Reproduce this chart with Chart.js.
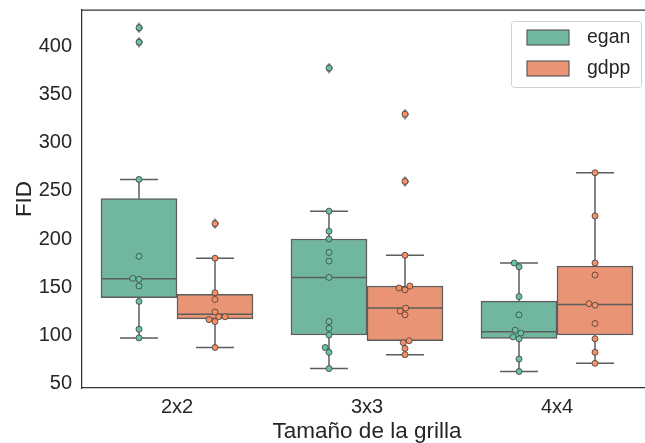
<!DOCTYPE html>
<html>
<head>
<meta charset="utf-8">
<script src="https://cdn.jsdelivr.net/npm/chart.js@4.4.1/dist/chart.umd.min.js"></script>
<style>
  html, body { margin: 0; padding: 0; background: #fff; overflow: hidden; }
  #wrap { width: 670px; height: 443px; }
</style>
</head>
<body>
<div id="wrap"><canvas id="chart" width="670" height="443"></canvas></div>
<script>
const categories = ["2x2", "3x3", "4x4"];
const seriesNames = ["egan", "gdpp"];

// FID values per grid size
const eganValues = [
  [420, 405, 262, 182, 159, 158, 151, 135, 106, 97],
  [378, 229, 208, 200, 186, 177, 160, 114, 107, 100, 87, 82, 65],
  [175, 171, 140, 121, 105, 102, 98, 96, 75, 62]
];
const gdppValues = [
  [216, 180, 144, 137, 124, 119, 119, 116, 114, 87],
  [330, 260, 183, 151, 149, 147, 128, 125, 121, 94, 92, 86, 79.5],
  [269, 224, 175, 162.5, 132.6, 131, 112, 96, 82, 70.5]
];
const yTicks = [50, 100, 150, 200, 250, 300, 350, 400];

const boxColors = ["rgb(113,183,160)", "rgb(233,149,117)"];
const pointColors = ["#66c2a5", "#fc8d62"];
const gray = "#5d5d5d";
const FONT = "'Liberation Sans', Arial, sans-serif";

function quantile(sorted, p) {
  const pos = (sorted.length - 1) * p;
  const lo = Math.floor(pos);
  const hi = Math.min(lo + 1, sorted.length - 1);
  return sorted[lo] + (pos - lo) * (sorted[hi] - sorted[lo]);
}

function boxStats(vals) {
  const s = [...vals].sort((a, b) => a - b);
  const q1 = quantile(s, 0.25), med = quantile(s, 0.5), q3 = quantile(s, 0.75);
  const iqr = q3 - q1;
  const inside = s.filter(v => v >= q1 - 1.5 * iqr && v <= q3 + 1.5 * iqr);
  return {
    q1, med, q3,
    lo: inside[0],
    hi: inside[inside.length - 1],
    fliers: s.filter(v => v < q1 - 1.5 * iqr || v > q3 + 1.5 * iqr)
  };
}

const allSeries = [eganValues, gdppValues];
const stats = allSeries.map(series => series.map(boxStats));
const hueOffset = [-0.2, 0.2];

function boxLines(h) {
  const pts = [];
  stats[h].forEach((st, i) => {
    const c = i + hueOffset[h];
    pts.push({ x: c, y: st.lo }, { x: c, y: st.q1 }, { x: c, y: null });
    pts.push({ x: c, y: st.q3 }, { x: c, y: st.hi }, { x: c, y: null });
    pts.push({ x: c - 0.1, y: st.lo }, { x: c + 0.1, y: st.lo }, { x: c, y: null });
    pts.push({ x: c - 0.1, y: st.hi }, { x: c + 0.1, y: st.hi }, { x: c, y: null });
    pts.push({ x: c - 0.2, y: st.med }, { x: c + 0.2, y: st.med }, { x: c, y: null });
  });
  return pts;
}

function flierPoints(h) {
  const pts = [];
  stats[h].forEach((st, i) => st.fliers.forEach(v => pts.push({ x: i + hueOffset[h], y: v })));
  return pts;
}

function rawPoints(h) {
  const pts = [];
  allSeries[h].forEach((vals, i) => vals.forEach(v => pts.push({ x: i + hueOffset[h], y: v, g: i })));
  return pts;
}

// thin diamond used for the boxplot fliers
const diamond = document.createElement("canvas");
diamond.width = 7; diamond.height = 11;
(function () {
  const c = diamond.getContext("2d");
  c.fillStyle = gray;
  c.beginPath();
  c.moveTo(3.5, 0); c.lineTo(7, 5.5); c.lineTo(3.5, 11); c.lineTo(0, 5.5);
  c.closePath(); c.fill();
})();

const datasets = [];
seriesNames.forEach((name, h) => {
  datasets.push({
    type: "bar",
    label: name,
    data: stats[h].map((st, i) => ({ x: i + hueOffset[h], y: [st.q1, st.q3] })),
    backgroundColor: boxColors[h],
    borderColor: gray,
    borderWidth: 1.5,
    borderSkipped: false,
    grouped: false,
    barThickness: ctx => {
      const xs = ctx.chart.scales.x2;
      return xs.getPixelForValue(0.4) - xs.getPixelForValue(0);
    },
    xAxisID: "x2",
    order: 5
  });
});
seriesNames.forEach((name, h) => {
  datasets.push({
    type: "line",
    label: name + " lines",
    data: boxLines(h),
    xAxisID: "x2",
    borderColor: gray,
    borderWidth: 1.5,
    pointRadius: 0,
    spanGaps: false,
    fill: false,
    order: 4
  });
  datasets.push({
    type: "scatter",
    label: name + " fliers",
    data: flierPoints(h),
    xAxisID: "x2",
    pointStyle: diamond,
    order: 3
  });
  datasets.push({
    type: "scatter",
    label: name + " points",
    data: rawPoints(h),
    xAxisID: "x2",
    backgroundColor: pointColors[h],
    borderColor: "#4a4a4a",
    borderWidth: 0.9,
    pointRadius: 3,
    order: 1
  });
});

const framePlugin = {
  id: "frame",
  afterDraw(chart) {
    const { ctx, chartArea: a } = chart;
    ctx.save();
    ctx.strokeStyle = "#333";
    ctx.lineWidth = 1.25;
    ctx.beginPath();
    ctx.moveTo(a.left, a.top); ctx.lineTo(a.right, a.top); ctx.lineTo(a.right, a.bottom);
    ctx.stroke();

    // legend box in the upper right corner
    const x0 = a.right - 141, y0 = a.top + 11, w = 130, h = 66;
    ctx.fillStyle = "rgba(255,255,255,0.8)";
    ctx.strokeStyle = "#d0d0d0";
    ctx.lineWidth = 1;
    ctx.beginPath();
    ctx.roundRect(x0 + 0.5, y0 + 0.5, w, h, 3);
    ctx.fill(); ctx.stroke();
    ctx.font = "19.5px " + FONT;
    ctx.textBaseline = "middle";
    seriesNames.forEach((name, i) => {
      const py = y0 + 9 + i * 31;
      ctx.fillStyle = boxColors[i];
      ctx.fillRect(x0 + 16, py, 42, 15);
      ctx.strokeStyle = gray;
      ctx.lineWidth = 1.2;
      ctx.strokeRect(x0 + 16, py, 42, 15);
      ctx.fillStyle = "#262626";
      ctx.fillText(name, x0 + 76, py + 7.5);
    });
    ctx.restore();
  }
};

const chart = new Chart(document.getElementById("chart"), {
  data: { labels: categories, datasets },
  options: {
    responsive: false,
    animation: false,
    layout: { padding: { top: 10, right: 18, left: 0, bottom: 0 } },
    plugins: { legend: { display: false }, tooltip: { enabled: false } },
    scales: {
      x: {
        type: "category",
        offset: true,
        grid: { display: false, drawTicks: false },
        border: { display: true, color: "#333", width: 1.25 },
        ticks: { color: "#262626", font: { family: FONT, size: 20 }, padding: 7 },
        title: {
          display: true, text: "Tamaño de la grilla", color: "#262626",
          font: { family: FONT, size: 22.5, lineHeight: 1 }, padding: { top: 0, bottom: 0 }
        },
        afterFit(s) { s.height = 55; s.paddingLeft = 0; s.paddingRight = 0; }
      },
      x2: { type: "linear", display: false, min: -0.5, max: 2.5, offset: false },
      y: {
        min: 44.8,
        max: 438.5,
        grid: { display: false, drawTicks: false },
        border: { display: true, color: "#333", width: 1.25 },
        ticks: { color: "#262626", font: { family: FONT, size: 20 }, padding: 10 },
        afterBuildTicks(s) { s.ticks = yTicks.map(v => ({ value: v })); },
        title: {
          display: true, text: "FID", color: "#262626",
          font: { family: FONT, size: 22.5, lineHeight: 1 }, padding: { top: 14, bottom: 0 }
        },
        afterFit(s) { s.width = 82; s.paddingTop = 0; s.paddingBottom = 0; }
      }
    }
  },
  plugins: [framePlugin]
});

// spread the points sideways like a swarm so they do not overlap
function swarm() {
  const ys = chart.scales.y, xs = chart.scales.x2;
  const unit = xs.getPixelForValue(1) - xs.getPixelForValue(0);
  const r = 3;
  seriesNames.forEach((name, h) => {
    const ds = chart.data.datasets.find(d => d.label === name + " points");
    categories.forEach((cat, g) => {
      const pts = ds.data.filter(p => p.g === g).sort((a, b) => a.y - b.y);
      const placed = [];
      pts.forEach(p => {
        const py = ys.getPixelForValue(p.y);
        const nb = placed.filter(q => Math.abs(q.py - py) < 2 * r);
        const cand = [0];
        let leftFirst = true;
        nb.forEach(q => {
          const dy = py - q.py;
          const dx = Math.sqrt(Math.max(4 * r * r - dy * dy, 0)) * 1.05;
          if (leftFirst) cand.push(q.px - dx, q.px + dx);
          else cand.push(q.px + dx, q.px - dx);
          leftFirst = !leftFirst;
        });
        const sorted = cand.map((c, k) => ({ c, k })).sort((a, b) => Math.abs(a.c) - Math.abs(b.c) || a.k - b.k);
        let best = 0;
        for (const { c } of sorted) {
          const ok = nb.every(q => Math.hypot(q.px - c, q.py - py) >= 2 * r - 1e-6);
          if (ok) { best = c; break; }
        }
        placed.push({ px: best, py });
        p.x = g + hueOffset[h] + best / unit;
      });
    });
  });
  chart.update("none");
}
swarm();
</script>
</body>
</html>
